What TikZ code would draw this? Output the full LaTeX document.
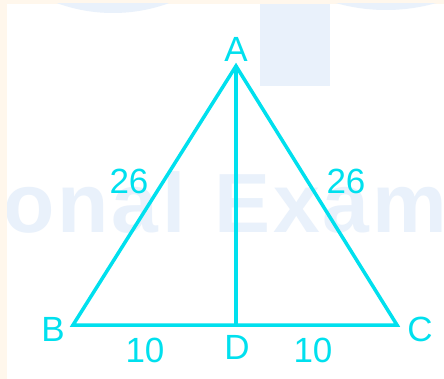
\documentclass[tikz,border=0pt]{standalone}
\usepackage{fontspec}
\setmainfont{Liberation Sans}
\definecolor{tri}{RGB}{0,224,238}
\definecolor{cream}{RGB}{255,247,236}
\definecolor{wm}{RGB}{233,241,251}
\begin{document}
\begin{tikzpicture}[x=1pt,y=-1pt,
  lbl/.style={inner sep=0pt,text=tri,font=\fontsize{35}{35}\selectfont},
  wmtext/.style={anchor=base west,inner sep=0pt,text=wm,font=\fontsize{84}{84}\selectfont\bfseries},
  edge/.style={draw=tri,line width=3.5pt,line join=miter}]
\useasboundingbox (0,0) rectangle (444,379);
\fill[cream] (0,0) rectangle (444,379);
\fill[white] (7,4) rectangle (444,379);
\begin{scope}
  \clip (7,4) rectangle (444,379);
  \fill[wm] (113,-150) circle (163);
  \fill[wm] (386,-173) circle (183);
  \fill[wm] (260,4) rectangle (330,86);
  \node[wmtext] (wm1) at (3,233) {o\kern3pt n\kern3pt a\kern4pt l};
  \node[wmtext] (wm2) at (214,233) {E\kern3pt x\kern3pt a\kern3pt m};
\end{scope}
\coordinate (A) at (236,66);
\coordinate (B) at (73,325);
\coordinate (C) at (397,325);
\coordinate (D) at (236,325);
\draw[edge] (A) -- (B) -- (C) -- cycle;
\draw[edge] (A) -- (D);
\node[lbl] (lA) at (236,49) {A};
\node[lbl] (lB) at (53,329) {B};
\node[lbl] (lC) at (420,329) {C};
\node[lbl] (lD) at (237,347) {D};
\node[lbl] (l1) at (145,350) {10};
\node[lbl] (l2) at (313,350) {10};
\node[lbl] (l3) at (129,181) {26};
\node[lbl] (l4) at (346,181) {26};
\end{tikzpicture}
\end{document}
